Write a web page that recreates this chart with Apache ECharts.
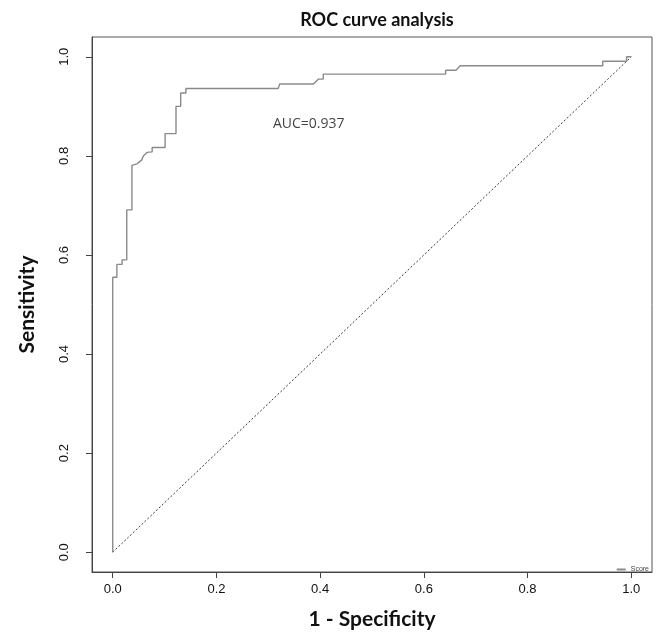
<!DOCTYPE html>
<html>
<head>
<meta charset="utf-8">
<script src="https://cdn.jsdelivr.net/npm/echarts@6/dist/echarts.min.js"></script>
<style>html,body{margin:0;padding:0;background:#fff}#c{width:656px;height:635px}</style>
</head>
<body>
<div id="c"></div>
<script>
// ROC curve points (1 - specificity, sensitivity)
const rocFPR = [0, 0, 0.008, 0.008, 0.018, 0.018, 0.027, 0.027, 0.037, 0.037, 0.047, 0.056, 0.059, 0.066, 0.076, 0.076, 0.101, 0.101, 0.122, 0.122, 0.131, 0.131, 0.141, 0.141, 0.319, 0.322, 0.387, 0.397, 0.406, 0.406, 0.642, 0.642, 0.662, 0.670, 0.945, 0.945, 0.991, 0.991, 1.0];
const rocTPR = [0, 0.555, 0.555, 0.581, 0.581, 0.590, 0.590, 0.691, 0.691, 0.781, 0.784, 0.792, 0.800, 0.807, 0.808, 0.817, 0.817, 0.845, 0.845, 0.900, 0.900, 0.927, 0.927, 0.936, 0.936, 0.945, 0.945, 0.955, 0.955, 0.965, 0.965, 0.973, 0.973, 0.982, 0.982, 0.991, 0.991, 1.0, 1.0];
const refX = [0, 1];
const refY = [0, 1];
const tickValues = [0, 0.2, 0.4, 0.6, 0.8, 1.0];
const seriesName = 'Score';
const aucText = 'AUC=0.937';
const aucPos = [0.309, 0.864];

const chart = echarts.init(document.getElementById('c'));
const tickFont = 'Liberation Sans, Arial, sans-serif';
const boldFont = 'Lato, Open Sans, sans-serif';
chart.setOption({
  animation: false,
  backgroundColor: '#fff',
  title: {
    text: 'ROC curve analysis', left: 372, top: 6, textAlign: 'center',
    textStyle: {fontFamily: boldFont, fontWeight: 'bold', fontSize: 18, color: '#111'}
  },
  legend: {
    data: [seriesName], right: 2, top: 561, itemWidth: 9, itemHeight: 2, itemGap: 2,
    textStyle: {fontSize: 7, color: '#444', fontFamily: tickFont, padding: [0, 0, 0, 0]}
  },
  grid: {left: 92, right: 4, top: 37, bottom: 58, show: true, borderColor: '#555', borderWidth: 1},
  xAxis: {
    type: 'value', min: -0.04, max: 1.04,
    name: '1 - Specificity', nameLocation: 'middle', nameGap: 37,
    nameTextStyle: {fontFamily: boldFont, fontWeight: 'bold', fontSize: 21, color: '#111'},
    axisLine: {show: true, onZero: false, lineStyle: {color: '#444'}},
    axisTick: {show: true, length: 6, customValues: tickValues, lineStyle: {color: '#444'}},
    axisLabel: {customValues: tickValues, margin: 11, fontFamily: tickFont, fontSize: 13, color: '#111', formatter: v => v.toFixed(1)},
    splitLine: {show: false}
  },
  yAxis: {
    type: 'value', min: -0.04, max: 1.04,
    name: 'Sensitivity', nameLocation: 'middle', nameGap: 54, nameRotate: 90,
    nameTextStyle: {fontFamily: boldFont, fontWeight: 'bold', fontSize: 21, color: '#111'},
    axisLine: {show: true, onZero: false, lineStyle: {color: '#444'}},
    axisTick: {show: true, length: 6, customValues: tickValues, lineStyle: {color: '#444'}},
    axisLabel: {customValues: tickValues, rotate: 90, margin: 21, fontFamily: tickFont, fontSize: 13, color: '#111', formatter: v => v.toFixed(1), align: 'center', verticalAlign: 'bottom'},
    splitLine: {show: false}
  },
  series: [
    {
      name: 'diag', type: 'line', symbol: 'none', silent: true,
      data: refX.map((x, i) => [x, refY[i]]),
      lineStyle: {color: '#222', width: 0.9, type: [2, 2]}, z: 2
    },
    {
      name: seriesName, type: 'line', symbol: 'none',
      data: rocFPR.map((x, i) => [x, rocTPR[i]]),
      lineStyle: {color: '#8a8a8a', width: 1.4}, itemStyle: {color: '#8a8a8a'}, z: 3
    },
    {
      name: 'auc', type: 'scatter', symbolSize: 0, silent: true,
      data: [aucPos],
      label: {show: true, formatter: aucText, position: [0, 0], align: 'left', verticalAlign: 'middle',
        fontFamily: 'Open Sans, sans-serif', fontSize: 14, color: '#111'}
    }
  ]
});
</script>
</body>
</html>
